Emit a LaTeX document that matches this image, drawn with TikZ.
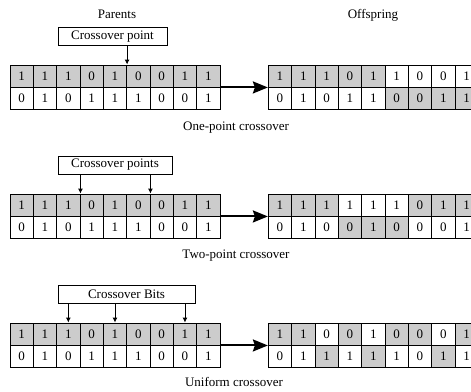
\documentclass[tikz,border=0pt]{standalone}
\usepackage{fontspec}
\setmainfont{Liberation Serif}
\usepackage{tikz}
\usetikzlibrary{arrows.meta}
\definecolor{dk}{gray}{0.8}

\begin{document}
\begin{tikzpicture}[x=1pt, y=-1pt, >={Latex[length=5pt,width=5pt]},
	every node/.style={font=\fontsize{13pt}{15pt}\selectfont, inner sep=0pt},
	cell/.style={draw, line width=0.9pt, minimum width=23.33pt, minimum height=22pt},
	box/.style={draw, line width=0.9pt, minimum height=18pt},
	big/.style={-{Stealth[length=15pt,width=12pt,inset=2pt]}, line width=2pt}]
	\clip (0,0) rectangle (471,391);
	\useasboundingbox (0,0) rectangle (471,391);
	% headings
	\node (par) at (117,14) {Parents};
	\node (off) at (373,15) {Offspring};
	% one-point crossover
	\foreach \v [count=\i] in {1,1,1,0,1,0,0,1,1}
		\node[cell, fill=dk] (p1t\i) at ({10+23.33*(\i-0.5)}, 76) {\v};
	\foreach \v [count=\i] in {0,1,0,1,1,1,0,0,1}
		\node[cell, fill=white] (p1b\i) at ({10+23.33*(\i-0.5)}, 98) {\v};
	\foreach \v/\f [count=\i] in {1/dk,1/dk,1/dk,0/dk,1/dk,1/white,0/white,0/white,1/white}
		\node[cell, fill=\f] (o1t\i) at ({268.33+23.33*(\i-0.5)}, 76) {\v};
	\foreach \v/\f [count=\i] in {0/white,1/white,0/white,1/white,1/white,0/dk,0/dk,1/dk,1/dk}
		\node[cell, fill=\f] (o1b\i) at ({268.33+23.33*(\i-0.5)}, 98) {\v};
	\node[box, minimum width=109pt] (cp1) at (112.5,36.5) {Crossover point};
	\draw[->, line width=0.9pt] (cp1.south -| p1t5.north east) -> (p1t5.north east);
	\draw[big] (p1t9.south east) -> (o1t1.south west);
	\node (lab1) at (236,128) {One-point crossover};
	% two-point crossover
	\foreach \v [count=\i] in {1,1,1,0,1,0,0,1,1}
		\node[cell, fill=dk] (p2t\i) at ({10+23.33*(\i-0.5)}, 205) {\v};
	\foreach \v [count=\i] in {0,1,0,1,1,1,0,0,1}
		\node[cell, fill=white] (p2b\i) at ({10+23.33*(\i-0.5)}, 227) {\v};
	\foreach \v/\f [count=\i] in {1/dk,1/dk,1/dk,1/white,1/white,1/white,0/dk,1/dk,1/dk}
		\node[cell, fill=\f] (o2t\i) at ({268.33+23.33*(\i-0.5)}, 205) {\v};
	\foreach \v/\f [count=\i] in {0/white,1/white,0/white,0/dk,1/dk,0/dk,0/white,0/white,1/white}
		\node[cell, fill=\f] (o2b\i) at ({268.33+23.33*(\i-0.5)}, 227) {\v};
	\node[box, minimum width=114pt] (cp2) at (115,165) {Crossover points};
	\draw[->, line width=0.9pt] (cp2.south -| p2t3.north east) -> (p2t3.north east);
	\draw[->, line width=0.9pt] (cp2.south -| p2t6.north east) -> (p2t6.north east);
	\draw[big] (p2t9.south east) -> (o2t1.south west);
	\node (lab2) at (236,256) {Two-point crossover};
	% uniform crossover
	\foreach \v [count=\i] in {1,1,1,0,1,0,0,1,1}
		\node[cell, fill=dk] (p3t\i) at ({10+23.33*(\i-0.5)}, 334) {\v};
	\foreach \v [count=\i] in {0,1,0,1,1,1,0,0,1}
		\node[cell, fill=white] (p3b\i) at ({10+23.33*(\i-0.5)}, 356) {\v};
	\foreach \v/\f [count=\i] in {1/dk,1/dk,0/white,0/dk,1/white,0/dk,0/dk,0/white,1/dk}
		\node[cell, fill=\f] (o3t\i) at ({268.33+23.33*(\i-0.5)}, 334) {\v};
	\foreach \v/\f [count=\i] in {0/white,1/white,1/dk,1/white,1/dk,1/white,0/white,1/dk,1/white}
		\node[cell, fill=\f] (o3b\i) at ({268.33+23.33*(\i-0.5)}, 356) {\v};
	\node[box, minimum width=137pt] (cp3) at (126.5,294) {Crossover Bits};
	\draw[->, line width=0.9pt] (cp3.south -| p3t3.north) -> (p3t3.north);
	\draw[->, line width=0.9pt] (cp3.south -| p3t5.north) -> (p3t5.north);
	\draw[->, line width=0.9pt] (cp3.south -| p3t8.north) -> (p3t8.north);
	\draw[big] (p3t9.south east) -> (o3t1.south west);
	\node (lab3) at (234,382) {Uniform crossover};
\end{tikzpicture}
\end{document}
